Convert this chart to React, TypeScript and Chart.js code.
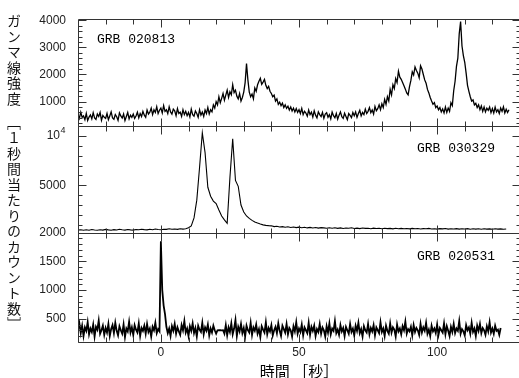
import React, { useEffect, useRef } from 'react';
import { Chart, registerables } from 'chart.js';

Chart.register(...registerables);

// ---- axis ranges and tick spacing ----
const X_MIN = -30;
const X_MAX = 130;
const X_MINOR = 10;
const X_MAJOR = 50;
const X_TICKS = [0, 50, 100];

// ---- GRB 020813 (top panel), 0.5 s bins starting at -30 s ----
const GRB1_NAME = 'GRB 020813';
const GRB1_START = -30;
const GRB1_STEP = 0.5;
const GRB1_COUNTS = [
  520, 380, 610, 420, 470, 330, 560, 300, 430, 510, 360, 590, 400, 340, 540, 450, 600, 310, 490, 420,
  380, 560, 330, 470, 620, 400, 350, 520, 440, 310, 580, 470, 390, 540, 300, 450, 600, 360, 500, 420,
  540, 380, 470, 610, 400, 560, 450, 640, 500, 420, 690, 540, 610, 760, 520, 700, 600, 810, 560, 680,
  760, 580, 850, 640, 700, 560, 810, 620, 540, 720, 660, 480, 740, 560, 610, 450, 700, 520, 640, 480,
  600, 430, 720, 520, 460, 650, 560, 420, 700, 500, 610, 450, 690, 560, 780, 540, 700, 620, 880, 760,
  1000, 880, 1180, 960, 1120, 1300, 1050, 1240, 1420, 1150, 1360, 1250, 1620, 1330, 1420, 1200, 1100, 1300, 1020, 1150,
  1350, 1700, 2400, 1800, 1350, 1180, 1280, 1100, 1500, 1380, 1620, 1750, 1860, 1640, 1720, 1820, 1600, 1480, 1560, 1380,
  1300, 1180, 1240, 1020, 1100, 900, 980, 850, 940, 780, 880, 750, 830, 690, 800, 650, 760, 620, 740, 600,
  700, 560, 750, 520, 640, 580, 460, 690, 520, 610, 430, 660, 500, 400, 620, 520, 450, 600, 380, 540,
  590, 420, 520, 360, 610, 480, 400, 560, 350, 500, 620, 440, 380, 570, 450, 330, 560, 490, 410, 600,
  480, 620, 420, 560, 680, 470, 600, 520, 720, 560, 640, 780, 590, 690, 540, 820, 660, 740, 880, 700,
  920, 780, 1080, 900, 1180, 1020, 1450, 1250, 1620, 1480, 1850, 1700, 2120, 1900, 1820, 1700, 1580, 1460, 1320, 1250,
  1550, 1780, 2100, 1980, 2280, 2150, 2050, 1880, 2320, 2200, 2000, 1800, 1680, 1450, 1320, 1150, 1020, 900, 960, 780,
  840, 700, 780, 620, 730, 580, 800, 600, 760, 640, 960, 850, 1400, 1750, 2300, 2600, 3500, 3950, 3050, 2700,
  2450, 2050, 1600, 1380, 1180, 1020, 1060, 880, 940, 780, 880, 700, 840, 640, 800, 620, 760, 680, 800, 590,
  740, 580, 800, 620, 700, 560, 760, 640, 810, 580, 720, 600, 700,
];
const GRB1_Y_MIN = 100;
const GRB1_Y_MAX = 4040;
const GRB1_Y_TICKS = [1000, 2000, 3000, 4000];
const GRB1_Y_MAJOR = 1000;
const GRB1_Y_MINOR = 200;

// ---- GRB 030329 (middle panel), 1 s bins starting at -30 s ----
const GRB2_NAME = 'GRB 030329';
const GRB2_START = -30;
const GRB2_STEP = 1;
const GRB2_COUNTS = [
  470, 510, 450, 500, 460, 530, 480, 450, 510, 470,
  540, 490, 460, 520, 480, 550, 500, 470, 530, 490,
  470, 530, 500, 560, 520, 490, 550, 510, 580, 530,
  500, 560, 540, 600, 550, 580, 540, 610, 570, 600,
  700, 900, 1700, 3500, 6800, 10300, 8300, 4800, 3900, 3400,
  3150, 2500, 1900, 1500, 1150, 5800, 9700, 5500, 4900, 3000,
  2300, 1900, 1650, 1450, 1300, 1180, 1080, 1000, 950, 920,
  900, 820, 860, 780, 820, 760, 800, 740, 780, 720,
  770, 710, 750, 690, 740, 680, 730, 670, 720, 690,
  650, 710, 660, 700, 640, 690, 630, 680, 650, 700,
  630, 670, 620, 680, 640, 660, 610, 670, 630, 650,
  600, 660, 620, 640, 590, 650, 610, 640, 600, 630,
  590, 640, 600, 630, 580, 620, 600, 640, 580, 610,
  570, 620, 590, 630, 570, 610, 580, 620, 570, 600,
  580, 620, 560, 600, 570, 610, 560, 600, 570, 590,
  560, 600, 570, 590, 550, 580,
];
const GRB2_Y_MIN = 200;
const GRB2_Y_MAX = 11000;
const GRB2_Y_TICKS = [5000, 10000];
const GRB2_Y_MAJOR = 5000;
const GRB2_Y_MINOR = 1000;

// ---- GRB 020531 (bottom panel), 0.5 s bins starting at -30 s ----
const GRB3_NAME = 'GRB 020531';
const GRB3_START = -30;
const GRB3_STEP = 0.5;
const GRB3_COUNTS = [
  310, 420, 250, 380, 200, 350, 290, 440, 230, 330,
  270, 400, 190, 360, 310, 470, 240, 300, 380, 220,
  340, 260, 410, 200, 320, 390, 250, 430, 290, 210,
  370, 300, 240, 400, 180, 330, 280, 450, 260, 350,
  220, 390, 310, 260, 420, 200, 340, 290, 380, 240,
  410, 270, 330, 190, 360, 300, 430, 250, 320, 280,
  1850, 1000, 730, 580, 360, 250, 330, 200, 370, 290,
  410, 240, 350, 280, 220, 390, 300, 460, 260, 330,
  200, 370, 290, 420, 250, 340, 190, 380, 310, 270,
  430, 230, 350, 290, 400, 210, 330, 260, 380, 300,
  240, 300, 302, 300, 298, 300, 240, 390, 210, 350,
  270, 420, 230, 330, 480, 200, 360, 280, 410, 250,
  340, 190, 380, 300, 260, 430, 220, 350, 290, 400,
  240, 320, 180, 370, 310, 260, 440, 230, 340, 280,
  390, 210, 300, 360, 250, 420, 290, 200, 380, 320,
  260, 410, 230, 340, 300, 190, 370, 280, 440, 240,
  330, 270, 400, 210, 350, 300, 250, 430, 220, 360,
  290, 380, 200, 320, 270, 410, 240, 350, 300, 190,
  370, 260, 420, 230, 330, 290, 460, 250, 310, 220,
  390, 280, 340, 200, 360, 300, 240, 410, 270, 330,
  210, 380, 290, 430, 250, 320, 190, 370, 300, 260,
  410, 230, 340, 280, 390, 210, 350, 300, 250, 440,
  270, 330, 200, 380, 290, 240, 420, 260, 350, 310,
  190, 400, 280, 330, 230, 370, 300, 450, 240, 320,
  280, 360, 210, 390, 270, 340, 300, 220, 410, 260,
  350, 290, 430, 240, 310, 200, 380, 280, 330, 250,
  400, 220, 340, 300, 260, 420, 230, 370, 290, 200,
  360, 270, 410, 250, 330, 290, 460, 240, 320, 280,
  210, 390, 300, 350, 240, 430, 270, 330, 200, 380,
  290, 410, 250, 340, 300, 220, 370, 280, 440, 260,
  330, 240, 380, 290, 310, 220, 340,
];
const GRB3_Y_MIN = 95;
const GRB3_Y_MAX = 2000;
const GRB3_Y_TICKS = [500, 1000, 1500, 2000];
const GRB3_Y_MAJOR = 500;
const GRB3_Y_MINOR = 100;

// ---- text ----
const X_TITLE = '時間 ［秒］';
const Y_TITLE = 'ガンマ線強度　［１秒間当たりのカウント数］';
const POWER_BASE = '10';
const POWER_EXP = '4';
const POWER_VALUE = 10000;

// ---- styles ----
const LINE_COLOR = '#000000';
const FRAME_COLOR = '#333333';
const TEXT_COLOR = '#222222';
const TICK_FONT = '"Liberation Sans", Arial, sans-serif';
const CJK_FONT = '"Noto Sans CJK JP", sans-serif';
const NAME_FONT = '"Liberation Mono", "DejaVu Sans Mono", monospace';

const toPoints = (start: number, step: number, counts: number[]) =>
  counts.map((c, i) => ({ x: start + i * step, y: c }));

type Panel = {
  id: string;
  name: string;
  major: number;
  minor: number;
  nameAlign: 'left' | 'right';
  nameX: number;
  nameDy: number;
};

const PANELS: Panel[] = [
  { id: 'yTop', name: GRB1_NAME, major: GRB1_Y_MAJOR, minor: GRB1_Y_MINOR, nameAlign: 'left', nameX: 97, nameDy: 20 },
  { id: 'yMid', name: GRB2_NAME, major: GRB2_Y_MAJOR, minor: GRB2_Y_MINOR, nameAlign: 'right', nameX: 495, nameDy: 22.5 },
  { id: 'yBot', name: GRB3_NAME, major: GRB3_Y_MAJOR, minor: GRB3_Y_MINOR, nameAlign: 'right', nameX: 495, nameDy: 24 },
];

const TICK_LABEL_PAD = 12;

const framePlugin = {
  id: 'frameTicks',
  afterDraw(chart: any) {
    const ctx = chart.ctx as CanvasRenderingContext2D;
    const xs = chart.scales.x;
    const left = Math.round(chart.chartArea.left) + 0.5;
    const right = Math.round(chart.chartArea.right) + 0.5;
    ctx.save();
    ctx.strokeStyle = FRAME_COLOR;
    ctx.lineWidth = 1;
    PANELS.forEach((p) => {
      const s = chart.scales[p.id];
      const top = Math.round(s.top) + 0.5;
      const bottom = Math.round(s.bottom) + 0.5;
      ctx.beginPath();
      ctx.rect(left, top, right - left, bottom - top);
      const first = Math.ceil(s.min / p.minor) * p.minor;
      for (let v = first; v <= s.max; v += p.minor) {
        const y = Math.round(s.getPixelForValue(v)) + 0.5;
        const len = v % p.major === 0 ? 8 : 4;
        ctx.moveTo(left, y);
        ctx.lineTo(left + len, y);
        ctx.moveTo(right, y);
        ctx.lineTo(right - len, y);
      }
      for (let t = X_MIN + X_MINOR; t < X_MAX; t += X_MINOR) {
        const x = Math.round(xs.getPixelForValue(t)) + 0.5;
        const len = t % X_MAJOR === 0 ? 8 : 5;
        ctx.moveTo(x, top);
        ctx.lineTo(x, top + len);
        ctx.moveTo(x, bottom);
        ctx.lineTo(x, bottom - len);
      }
      ctx.stroke();

      ctx.fillStyle = '#000';
      ctx.font = `13px ${NAME_FONT}`;
      ctx.textBaseline = 'middle';
      ctx.textAlign = p.nameAlign;
      ctx.fillText(p.name, p.nameX, s.top + p.nameDy);
    });

    // exponent of the 10^4 tick label of the middle panel
    const mid = chart.scales.yMid;
    const yPow = mid.getPixelForValue(POWER_VALUE);
    ctx.fillStyle = TEXT_COLOR;
    ctx.font = `9px ${TICK_FONT}`;
    ctx.textAlign = 'left';
    ctx.textBaseline = 'middle';
    ctx.fillText(POWER_EXP, chart.chartArea.left - TICK_LABEL_PAD - 5.5, yPow - 5);
    ctx.restore();
  },
};

function yScale(min: number, max: number, tickValues: number[], weight: number, stackWeight: number, label: (v: number) => string) {
  return {
    type: 'linear' as const,
    position: 'left' as const,
    stack: 'grb',
    stackWeight,
    weight,
    min,
    max,
    grid: { display: false, drawTicks: false },
    border: { display: false },
    afterBuildTicks: (s: any) => {
      s.ticks = tickValues.map((v) => ({ value: v }));
    },
    ticks: {
      autoSkip: false,
      padding: TICK_LABEL_PAD,
      color: TEXT_COLOR,
      font: { family: TICK_FONT, size: 12 },
      callback: (v: any) => label(Number(v)),
    },
    afterFit: (s: any) => {
      s.width = 78;
    },
  };
}

export default function App() {
  const canvasRef = useRef<HTMLCanvasElement | null>(null);

  useEffect(() => {
    if (!canvasRef.current) return;
    const base = { borderColor: LINE_COLOR, pointRadius: 0, tension: 0 };
    const chart = new Chart(canvasRef.current, {
      type: 'line',
      data: {
        datasets: [
          { data: toPoints(GRB1_START, GRB1_STEP, GRB1_COUNTS), yAxisID: 'yTop', borderWidth: 1.3, ...base },
          { data: toPoints(GRB2_START, GRB2_STEP, GRB2_COUNTS), yAxisID: 'yMid', borderWidth: 1.1, ...base },
          { data: toPoints(GRB3_START, GRB3_STEP, GRB3_COUNTS), yAxisID: 'yBot', borderWidth: 1.8, ...base },
        ],
      },
      options: {
        responsive: false,
        animation: false,
        devicePixelRatio: 1,
        parsing: false as any,
        normalized: true,
        layout: { padding: { left: 0, right: 1, top: 14, bottom: 0 } },
        plugins: {
          legend: { display: false },
          tooltip: { enabled: false },
        },
        scales: {
          x: {
            type: 'linear',
            position: 'bottom',
            min: X_MIN,
            max: X_MAX,
            grid: { display: false, drawTicks: false },
            border: { display: false },
            afterBuildTicks: (s: any) => {
              s.ticks = X_TICKS.map((v) => ({ value: v }));
            },
            ticks: {
              autoSkip: false,
              maxRotation: 0,
              padding: 3,
              color: TEXT_COLOR,
              font: { family: TICK_FONT, size: 12 },
              callback: (v: any) => String(v),
            },
            title: {
              display: true,
              text: X_TITLE,
              color: '#000',
              font: { family: CJK_FONT, size: 15, lineHeight: 0.9 },
              padding: { top: 0, bottom: 0 },
            },
            afterFit: (s: any) => {
              s.height = 36;
            },
          },
          yTop: yScale(GRB1_Y_MIN, GRB1_Y_MAX, GRB1_Y_TICKS, 3, 108.5, (v) => String(v)),
          yMid: yScale(GRB2_Y_MIN, GRB2_Y_MAX, GRB2_Y_TICKS, 2, 108.5, (v) => (v === POWER_VALUE ? POWER_BASE + '\u2002' : String(v))),
          yBot: yScale(GRB3_Y_MIN, GRB3_Y_MAX, GRB3_Y_TICKS, 1, 111, (v) => String(v)),
        } as any,
      },
      plugins: [framePlugin],
    });
    return () => chart.destroy();
  }, []);

  return (
    <div style={{ position: 'fixed', left: 0, top: 0, width: 519, height: 378, overflow: 'hidden', background: '#fff' }}>
      <canvas ref={canvasRef} width={521} height={378} style={{ display: 'block' }} />
      <div
        style={{
          position: 'absolute',
          left: 7,
          top: 14,
          writingMode: 'vertical-rl',
          fontFamily: CJK_FONT,
          fontSize: 14,
          lineHeight: '14px',
          letterSpacing: '1.5px',
          color: '#111',
          whiteSpace: 'nowrap',
        }}
      >
        {Y_TITLE}
      </div>
    </div>
  );
}
